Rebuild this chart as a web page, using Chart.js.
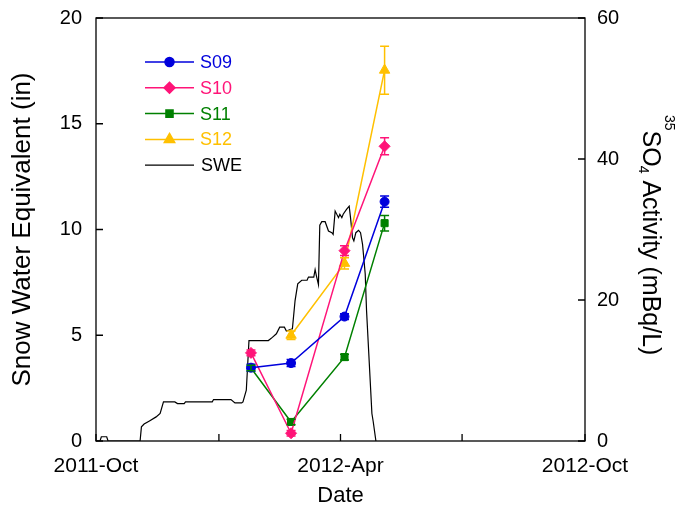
<!DOCTYPE html>
<html>
<head>
<meta charset="utf-8">
<script src="https://cdn.jsdelivr.net/npm/chart.js@4.4.1/dist/chart.umd.min.js"></script>
<style>
  html, body { margin: 0; padding: 0; background: #fff; }
  #wrap { width: 681px; height: 509px; }
</style>
</head>
<body>
<div id="wrap"><canvas id="swe_chart"></canvas></div>
<script>
// sampling dates for the 35SO4 sites
const sampleDates = ['2012-01-25', '2012-02-24', '2012-04-04', '2012-05-04'];

// 35SO4 activity (mBq/L) and error bars
const s09 = [10.4, 11.05, 17.65, 33.95];
const s10 = [12.5, 1.1, 27.0, 41.8];
const s11 = [10.35, 2.7, 11.9, 30.9];
const s12 = [null, 15.0, 25.2, 52.6];
const s09Err = [0.5, 0.5, 0.4, 0.8];
const s10Err = [0.4, 0.4, 0.7, 1.2];
const s11Err = [0.4, 0.4, 0.4, 1.1];
const s12Err = [null, 0.6, 0.8, 3.4];

// snow water equivalent (in), days since 2011-10-01
const sweDays = [0, 3, 4, 8, 9, 33, 34, 36, 40, 45, 48, 50.5, 59, 61, 66, 67, 87, 88, 101, 104,
  109, 110, 112.5, 114.5, 129, 130, 132, 135, 137.5, 141, 142.5, 147, 149, 151, 154, 158, 159,
  163, 164, 165, 166.5, 167.5, 169, 171.5, 174, 176.5, 177.5, 179, 181.5, 182.5, 184, 185, 187.5,
  189.5, 190.5, 192, 193, 194.5, 196.5, 198, 199.5, 201.5, 202.5, 206.5, 207.5, 209.5];
const sweValues = [0, 0, 0.2, 0.2, 0, 0, 0.67, 0.8, 0.95, 1.14, 1.3, 1.85, 1.85, 1.77, 1.77, 1.85, 1.85, 1.96, 1.96, 1.8,
  1.8, 1.85, 2.4, 4.75, 4.75, 4.8, 4.9, 5.07, 5.38, 5.38, 5.2, 5.3, 6.64, 7.43, 7.6, 7.6, 7.75,
  7.75, 8.1, 7.8, 7.4, 10.2, 10.37, 10.37, 9.93, 9.85, 9.77, 10.87, 10.56, 10.72, 10.56, 10.72, 10.95,
  11.1, 10.56, 9.61, 9.46, 9.85, 9.96, 9.85, 9.3, 7.9, 6.16, 1.3, 0.91, 0];

const xTickDates = ['2011-10-01', '2012-01-01', '2012-04-01', '2012-07-01', '2012-10-01'];
const xTickLabels = ['2011-Oct', '', '2012-Apr', '', '2012-Oct'];
const sweTicks = [0, 5, 10, 15, 20];
const so4Ticks = [0, 20, 40, 60];

const FONT = '"Liberation Sans", Arial, sans-serif';
const origin = Date.UTC(2011, 9, 1);
function dayOf(str) {
  return (new Date(str + 'T00:00:00Z').getTime() - origin) / 86400000;
}
const sampleDays = sampleDates.map(dayOf);
const xTickDays = xTickDates.map(dayOf);

function pts(values) {
  return values.map((v, i) => ({ x: sampleDays[i], y: v }));
}

const errorMap = { S09: s09Err, S10: s10Err, S11: s11Err, S12: s12Err };

const errorBars = {
  id: 'errorBars',
  afterDatasetsDraw(chart) {
    const ctx = chart.ctx;
    const xs = chart.scales.x, ys = chart.scales.y2;
    chart.data.datasets.forEach(ds => {
      const errs = errorMap[ds.label];
      if (!errs) return;
      ctx.save();
      ctx.strokeStyle = ds.borderColor;
      ctx.lineWidth = 1.5;
      ds.data.forEach((p, i) => {
        if (p.y == null || errs[i] == null) return;
        const x = xs.getPixelForValue(p.x);
        const y1 = ys.getPixelForValue(p.y - errs[i]);
        const y2 = ys.getPixelForValue(p.y + errs[i]);
        ctx.beginPath();
        ctx.moveTo(x, y1); ctx.lineTo(x, y2);
        ctx.moveTo(x - 4.5, y1); ctx.lineTo(x + 4.5, y1);
        ctx.moveTo(x - 4.5, y2); ctx.lineTo(x + 4.5, y2);
        ctx.stroke();
      });
      ctx.restore();
    });
  }
};

const frameAndTicks = {
  id: 'frameAndTicks',
  afterDraw(chart) {
    const ctx = chart.ctx;
    const a = chart.chartArea;
    const len = 7;
    ctx.save();
    ctx.strokeStyle = '#000';
    ctx.lineWidth = 1.3;
    ctx.strokeRect(a.left, a.top, a.right - a.left, a.bottom - a.top);
    ctx.beginPath();
    sweTicks.forEach(v => {
      const y = chart.scales.y.getPixelForValue(v);
      ctx.moveTo(a.left, y); ctx.lineTo(a.left + len, y);
    });
    so4Ticks.forEach(v => {
      const y = chart.scales.y2.getPixelForValue(v);
      ctx.moveTo(a.right, y); ctx.lineTo(a.right - len, y);
    });
    xTickDays.forEach(d => {
      const x = chart.scales.x.getPixelForValue(d);
      ctx.moveTo(x, a.bottom); ctx.lineTo(x, a.bottom - len);
    });
    ctx.stroke();

    // right axis title: 35SO4 Activity (mBq/L)
    ctx.translate(643, 115);
    ctx.rotate(Math.PI / 2);
    ctx.fillStyle = '#000';
    ctx.textBaseline = 'alphabetic';
    ctx.textAlign = 'left';
    let x = 0;
    ctx.font = '14px ' + FONT;
    ctx.fillText('35', x, -22);
    x += ctx.measureText('35').width;
    ctx.font = '25px ' + FONT;
    ctx.fillText('SO', x, 0);
    x += ctx.measureText('SO').width;
    ctx.font = '14px ' + FONT;
    ctx.fillText('4', x - 1, 4);
    x += ctx.measureText('4').width - 1;
    ctx.font = '25px ' + FONT;
    ctx.fillText(' Activity (mBq/L)', x, 0);
    ctx.restore();

    // legend
    ctx.save();
    ctx.font = '18px ' + FONT;
    ctx.textBaseline = 'middle';
    chart.data.datasets.forEach((ds, i) => {
      const y = 62 + i * 25.8;
      ctx.strokeStyle = ds.borderColor;
      ctx.lineWidth = ds.borderWidth;
      ctx.beginPath();
      ctx.moveTo(145, y); ctx.lineTo(194, y);
      ctx.stroke();
      if (ds.pointRadius > 0) {
        ctx.fillStyle = ds.borderColor;
        Chart.helpers.drawPoint(ctx, { pointStyle: ds.pointStyle, radius: ds.pointRadius, rotation: 0, borderWidth: 1 }, 169.5, y);
      }
      ctx.fillStyle = ds.label === 'SWE' ? '#000' : ds.borderColor;
      ctx.fillText(ds.label, ds.label === 'SWE' ? 201 : 200, y + 1);
    });
    ctx.restore();
  }
};

function siteSet(label, color, style, radius, values) {
  return {
    label: label,
    data: pts(values),
    yAxisID: 'y2',
    borderColor: color,
    backgroundColor: color,
    borderWidth: 1.5,
    pointStyle: style,
    pointRadius: radius,
    pointBorderWidth: 1,
    spanGaps: true
  };
}

const ctx = document.getElementById('swe_chart').getContext('2d');
new Chart(ctx, {
  type: 'line',
  data: {
    datasets: [
      siteSet('S09', 'rgb(0, 0, 220)', 'circle', 4.5, s09),
      siteSet('S10', 'rgb(255, 20, 120)', 'rectRot', 5.5, s10),
      siteSet('S11', 'rgb(0, 128, 0)', 'rect', 5, s11),
      siteSet('S12', 'rgb(255, 192, 0)', 'triangle', 6, s12),
      {
        label: 'SWE',
        data: sweDays.map((d, i) => ({ x: d, y: sweValues[i] })),
        yAxisID: 'y',
        borderColor: '#000',
        borderWidth: 1.2,
        pointRadius: 0,
        tension: 0
      }
    ]
  },
  options: {
    responsive: true,
    maintainAspectRatio: false,
    animation: false,
    events: [],
    layout: { padding: { top: 15, left: 0, right: 0, bottom: 0 } },
    plugins: {
      legend: { display: false },
      tooltip: { enabled: false }
    },
    scales: {
      x: {
        type: 'linear',
        min: 0,
        max: xTickDays[xTickDays.length - 1],
        grid: { display: false },
        border: { display: false },
        afterBuildTicks: s => { s.ticks = xTickDays.map(v => ({ value: v })); },
        afterFit: s => { s.height = 68; },
        ticks: {
          padding: 5,
          color: '#000',
          font: { family: FONT, size: 21 },
          maxRotation: 0,
          autoSkip: false,
          callback: (v) => xTickLabels[xTickDays.indexOf(v)]
        },
        title: {
          display: true,
          text: 'Date',
          color: '#000',
          font: { family: FONT, size: 22 },
          padding: { top: 0, bottom: 0 }
        }
      },
      y: {
        position: 'left',
        min: 0,
        max: 20,
        grid: { display: false },
        border: { display: false },
        afterBuildTicks: s => { s.ticks = sweTicks.map(v => ({ value: v })); },
        afterFit: s => { s.width = 96; },
        ticks: {
          padding: 6,
          color: '#000',
          font: { family: FONT, size: 20 }
        },
        title: {
          display: true,
          text: 'Snow Water Equivalent (in)',
          color: '#000',
          font: { family: FONT, size: 26 },
          padding: { top: 7, bottom: 0 }
        }
      },
      y2: {
        position: 'right',
        min: 0,
        max: 60,
        grid: { display: false },
        border: { display: false },
        afterBuildTicks: s => { s.ticks = so4Ticks.map(v => ({ value: v })); },
        afterFit: s => { s.width = 96; },
        ticks: {
          padding: 4,
          color: '#000',
          font: { family: FONT, size: 20 }
        }
      }
    }
  },
  plugins: [errorBars, frameAndTicks]
});
</script>
</body>
</html>
